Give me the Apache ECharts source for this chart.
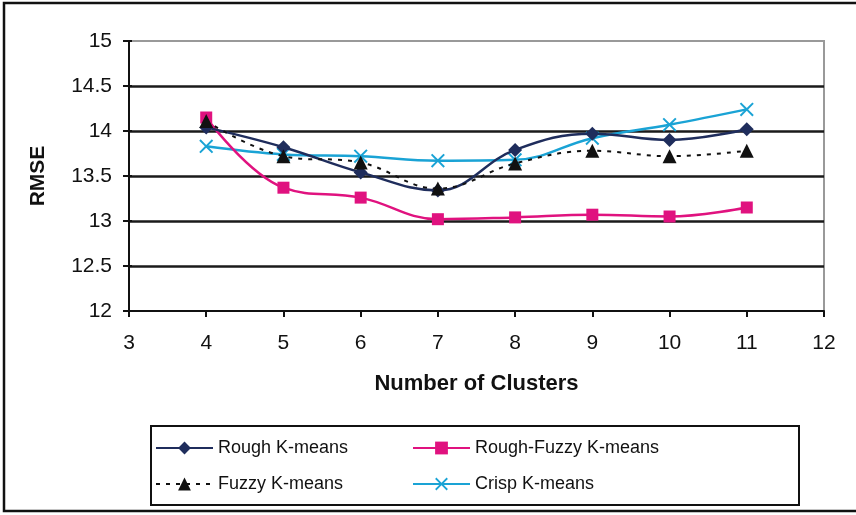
<!DOCTYPE html>
<html>
<head>
<meta charset="utf-8">
<script src="https://cdn.jsdelivr.net/npm/echarts@6/dist/echarts.min.js"></script>
<style>html,body{margin:0;padding:0;background:#fff}#c{width:856px;height:515px}</style>
</head>
<body>
<div id="c"></div>
<script>
var clusters = [4, 5, 6, 7, 8, 9, 10, 11];
var roughKMeans = [14.04, 13.82, 13.54, 13.34, 13.79, 13.97, 13.90, 14.02];
var roughFuzzyKMeans = [14.15, 13.37, 13.26, 13.02, 13.04, 13.07, 13.05, 13.15];
var fuzzyKMeans = [14.11, 13.72, 13.65, 13.36, 13.64, 13.78, 13.72, 13.78];
var crispKMeans = [13.83, 13.74, 13.72, 13.67, 13.68, 13.92, 14.07, 14.24];
var yTicks = [12, 12.5, 13, 13.5, 14, 14.5, 15];
var xTicks = [3, 4, 5, 6, 7, 8, 9, 10, 11, 12];

function pairs(vals) { return clusters.map(function (c, i) { return [c, vals[i]]; }); }

var FONT = 'Liberation Sans, Arial, sans-serif';
var xPath = 'path://M1,0 L5,4 L9,0 L10,1 L6,5 L10,9 L9,10 L5,6 L1,10 L0,9 L4,5 L0,1 Z';

var chart = echarts.init(document.getElementById('c'), null, { renderer: 'canvas' });
chart.setOption({
  animation: false,
  backgroundColor: '#fff',
  textStyle: { fontFamily: FONT },
  grid: { left: 129, top: 41, right: 32, bottom: 204, show: true, borderColor: '#999', borderWidth: 2, backgroundColor: 'transparent' },
  xAxis: {
    type: 'value', min: xTicks[0], max: xTicks[xTicks.length - 1], interval: 1,
    name: 'Number of Clusters', nameLocation: 'middle', nameGap: 62,
    nameTextStyle: { fontSize: 22, fontWeight: 'bold', color: '#111', fontFamily: FONT },
    axisLine: { show: true, lineStyle: { color: '#111', width: 2 } },
    axisTick: { show: true, length: 6, lineStyle: { color: '#111', width: 2 } },
    axisLabel: { fontSize: 21, color: '#111', margin: 22, fontFamily: FONT },
    splitLine: { show: false }
  },
  yAxis: [
    {
      type: 'value', min: yTicks[0], max: yTicks[yTicks.length - 1], interval: 0.5,
      name: 'RMSE', nameLocation: 'middle', nameGap: 80, nameRotate: 90,
      nameTextStyle: { fontSize: 21, fontWeight: 'bold', color: '#111', fontFamily: FONT },
      axisLine: { show: true, lineStyle: { color: '#111', width: 2 } },
      axisTick: { show: true, length: 6, lineStyle: { color: '#111', width: 2 } },
      axisLabel: { fontSize: 21, color: '#111', margin: 17, fontFamily: FONT },
      splitLine: { show: true, showMaxLine: false, showMinLine: false, lineStyle: { color: '#1a1a1a', width: 2.5 } }
    },
    {
      type: 'value', min: yTicks[0], max: yTicks[yTicks.length - 1], interval: 0.5, position: 'left',
      axisLine: { show: false },
      axisTick: { show: true, inside: true, length: 3, lineStyle: { color: '#111', width: 2 } },
      axisLabel: { show: false },
      splitLine: { show: false }
    }
  ],
  legend: [
    {
      left: 155, top: 439, padding: 0, orient: 'vertical', itemWidth: 57, itemHeight: 16, itemGap: 18,
      data: ['Rough K-means', 'Fuzzy K-means'],
      textStyle: { fontSize: 18, color: '#111', fontFamily: FONT }
    },
    {
      left: 412, top: 439, padding: 0, orient: 'vertical', itemWidth: 57, itemHeight: 16, itemGap: 18,
      data: ['Rough-Fuzzy K-means', 'Crisp K-means'],
      textStyle: { fontSize: 18, color: '#111', fontFamily: FONT }
    }
  ],
  graphic: [
    { type: 'rect', shape: { x: 4, y: 3, width: 900, height: 508 }, style: { fill: null, stroke: '#111', lineWidth: 2.5 }, silent: true },
    { type: 'rect', shape: { x: 151, y: 426, width: 648, height: 79 }, style: { fill: null, stroke: '#111', lineWidth: 2 }, silent: true }
  ],
  series: [
    {
      name: 'Rough K-means', type: 'line', data: pairs(roughKMeans), smooth: 0.4,
      symbol: 'diamond', symbolSize: 14, z: 4,
      lineStyle: { color: '#1F2D5C', width: 2.5 }, itemStyle: { color: '#1F2D5C' }
    },
    {
      name: 'Rough-Fuzzy K-means', type: 'line', data: pairs(roughFuzzyKMeans), smooth: 0.4,
      symbol: 'rect', symbolSize: 12, z: 3,
      lineStyle: { color: '#E0127F', width: 2.5 }, itemStyle: { color: '#E0127F' }
    },
    {
      name: 'Fuzzy K-means', type: 'line', data: pairs(fuzzyKMeans), smooth: 0.4,
      symbol: 'triangle', symbolSize: 14, z: 5,
      lineStyle: { color: '#111', width: 2, type: [4, 6] }, itemStyle: { color: '#111' }
    },
    {
      name: 'Crisp K-means', type: 'line', data: pairs(crispKMeans), smooth: 0.4,
      symbol: xPath, symbolSize: 14, z: 2,
      lineStyle: { color: '#1AA3D5', width: 2.5 }, itemStyle: { color: '#1AA3D5' }
    }
  ]
});
</script>
</body>
</html>
